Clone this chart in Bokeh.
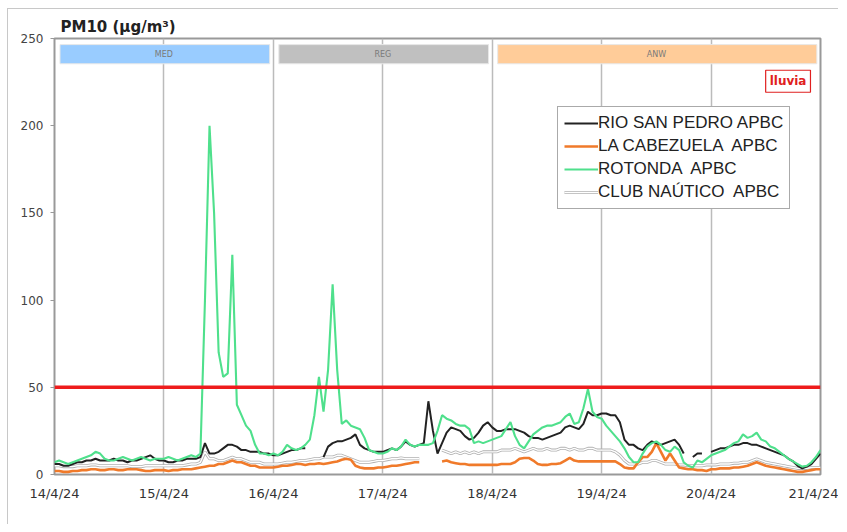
import numpy as np
from bokeh.plotting import figure
from bokeh.models import Range1d, FixedTicker, Span, Label, Legend, LegendItem, ColumnDataSource
from bokeh.core.properties import value
from bokeh.embed import file_html
from bokeh.resources import INLINE

nan = float("nan")

# ---- data (hourly, 14/4/24 00:00 .. 21/4/24 00:00) ----
tick_labels = ["14/4/24", "15/4/24", "16/4/24", "17/4/24", "18/4/24", "19/4/24", "20/4/24", "21/4/24"]
hours = list(range(169))

rotonda = (
    [7, 8, 7, 6, 7, 8, 9, 10, 11, 13, 12, 9, 8, 8, 9, 10, 9, 8, 9, 10, 9, 8, 9, 9]
    + [9, 10, 9, 8, 9, 10, 11, 10, 12, 100, 200, 150, 70, 56, 58, 126, 40, 34, 28, 25, 17, 12, 12, 11]
    + [12, 11, 13, 17, 15, 14, 15, 17, 20, 34, 56, 36, 60, 109, 60, 29, 31, 28, 27, 26, 21, 14, 13, 12]
    + [12, 13, 15, 14, 16, 20, 17, 16, 17, 17, 17, 18, 25, 34, 32, 31, 29, 28, 28, 26, 18, 19, 18, 19]
    + [20, 21, 22, 26, 30, 22, 17, 15, 19, 23, 25, 27, 28, 28, 29, 30, 33, 35, 29, 30, 38, 49, 36, 33]
    + [32, 28, 25, 22, 19, 15, 10, 7, 7, 12, 16, 18, 19, 17, 14, 13, 16, 14, 7, 5, 4, 8, 7, 9]
    + [11, 12, 13, 14, 16, 18, 19, 23, 21, 22, 24, 20, 19, 16, 15, 13, 11, 9, 7.5, 6, 4.5, 5, 7, 10, 14]
)
rio_san_pedro = (
    [6, 6, 5, 5, 6, 7, 7, 8, 8, 9, 8, 8, 8, 9, 8, 8, 7, 8, 8, 9, 10, 11, 9, 8]
    + [8, 7, 7, 8, 8, 9, 9, 9, 10, 18, 12, 12, 13, 15, 17, 17, 16, 14, 14, 13, 13, 13, 12, 12]
    + [11, 11, 12, 13, 14, 14, 15, 15, nan, nan, nan, 10, 16, 18, 19, 19, 20, 21, 23, 17, 15, 14, 13, 13]
    + [13, 14, 15, 14, 16, 19, 17, 16, 17, 18, 42, 25, 12, 18, 24, 27, 26, 25, 22, 20, 21, 24, 28, 30]
    + [27, 25, 25, 26, 26, 26, 25, 24, 22, 21, 21, 20, 21, 22, 23, 24, 27, 28, 27, 26, 29, 36, 34, 34]
    + [35, 35, 34, 34, 30, 20, 17, 17, 15, 14, 17, 19, 18, 17, 18, 19, 20, 17, 12, nan, 10, 12, 12, nan]
    + [13, 14, 15, 15, 16, 17, 17, 18, 18, 17, 17, 16, 15, 14, 13, 12, 11, 9, 7.5, 5, 3.5, 4.5, 6, 9, 12]
)
la_cabezuela = (
    [2, 2, 1.5, 1.5, 2, 2, 2.5, 2.5, 3, 3, 2.5, 2.5, 3, 3, 2.5, 2.5, 3, 3, 3, 2.5, 2, 2, 2.5, 2.5]
    + [2.5, 2, 2.5, 2.5, 3, 3, 3, 3.5, 4, 4.5, 5, 5, 6, 6, 7, 8, 7, 7, 6, 5, 5, 4, 4, 4]
    + [4, 4.5, 5, 5, 5.5, 6, 6, 5.5, 6, 6, 6.5, 6, 6.5, 7, 7.5, 8.5, 9, 8.5, 5, 4, 3.5, 3.5, 3.5, 4]
    + [4, 4.5, 5, 5, 5.5, 6, 6.5, 7, 7, nan, nan, nan, nan, 7.5, 8, 7, 6.5, 6, 6, 5.5, 5.5, 5.5, 5.5, 5.5]
    + [5.5, 5.5, 6, 6, 6, 7, 9, 9.5, 9.5, 8, 6, 5.5, 5.5, 6, 6, 6.5, 8, 9.5, 8, 7.5, 7.5, 7.5, 7.5, 7.5]
    + [7.5, 7.5, 7.5, 7.5, 6, 4, 3.5, 3.5, 7, 10, 10, 13, 18, 13, 8, 12, 8, 4, 3.5, 3, 3, 2.5, 2.5, 2]
    + [3, 3, 3.5, 3.5, 3.5, 4, 4, 4.5, 5, 6, 7, 6, 5, 4.5, 4, 3.5, 3, 2.5, 2, 1.5, 1.5, 2, 2.5, 3, 3]
)
club_nautico = (
    [5, 5, 4.5, 4.5, 4.5, 5, 5, 5, 5.5, 5.5, 5, 5, 5, 5, 5, 5, 5, 4.5, 4.5, 4.5, 5, 5, 5, 5]
    + [5, 5, 5, 5, 5, 5.5, 6, 6, 7, 13, 9, 9, 8, 8, 9, 10, 9, 9, 8, 7, 7, 7, 6, 6]
    + [6, 6, 6.5, 7, 7, 7.5, 8, 8, 8.5, 9, 9, 10, 10, 10, 11, 11, 10, 9, 8, 7, 7, 7, 7.5, 8]
    + [8, 8.5, 9, 9, 9.5, 9, 9, 9, 9, nan, nan, nan, nan, 14, 13, 12, 13, 12, 13, 12, 13, 12, 13, 13]
    + [13, 13, 14, 14, 14, 15, 14, 13, 14, 15, 14, 14, 15, 14, 14, 15, 15, 14, 15, 14, 14, 15, 15, 14]
    + [14, 14, 14, 13, 11, 8, 6, 6, 6, 7, 7, 8, 8, 7, 6, 6, 6, 5.5, 5.5, 5, 5, 5, 5, 5.5]
    + [5.5, 5.5, 6, 6, 6, 6.5, 6.5, 7, 7, 8, 9, 8, 7, 6.5, 6, 5.5, 5, 4.5, 4, 3.5, 3.5, 3.5, 4, 4, 4]
)
limit_value = 50

band_names = ["MED", "REG", "ANW"]
band_start_day = [0, 2, 4]
band_end_day = [2, 4, 7]
band_colors = ["#99ccff", "#c0c0c0", "#ffcc99"]

# ---- figure ----
p = figure(width=831, height=516, x_range=Range1d(0, 168), y_range=Range1d(0, 250),
           output_backend="svg", toolbar_location=None,
           min_border_left=46, min_border_right=19, min_border_top=29, min_border_bottom=51)
p.styles = {"margin-left": "7px", "margin-top": "8px",
            "border-top": "1px solid #c8c8c8", "border-left": "1px solid #c8c8c8"}
p.background_fill_color = "white"
p.border_fill_color = "white"
p.outline_line_color = "#999999"
p.outline_line_width = 2

p.title.text = "PM10 (µg/m³)"
p.title.text_font = "DejaVu Sans"
p.title.text_font_size = "15px"
p.title.text_font_style = "bold"
p.title.text_color = "#222222"
p.title.align = "left"
p.title.offset = 6
p.title.standoff = 5

day_ticks = [24 * i for i in range(len(tick_labels))]
p.xaxis.ticker = FixedTicker(ticks=day_ticks)
p.xaxis.major_label_overrides = {t: l for t, l in zip(day_ticks, tick_labels)}
p.xgrid.ticker = FixedTicker(ticks=day_ticks)
p.xgrid.grid_line_color = "#bbbbbb"
p.xgrid.grid_line_width = 1.5
p.ygrid.visible = False

p.yaxis.ticker = FixedTicker(ticks=[0, 50, 100, 150, 200, 250])
for ax in (p.xaxis, p.yaxis):
    ax.axis_line_color = None
    ax.minor_tick_line_color = None
    ax.major_label_text_font = "DejaVu Sans"
    ax.major_label_text_color = "#444444"
p.yaxis.major_label_text_font_size = "12px"
p.xaxis.major_label_text_font_size = "13px"
p.xaxis.major_label_text_color = "#333333"
p.xaxis.major_tick_line_color = None
p.xaxis.major_label_standoff = 5
p.yaxis.major_tick_line_color = "#999999"
p.yaxis.major_tick_out = 4
p.yaxis.major_tick_in = 0
p.yaxis.major_label_standoff = 7

# regime bands
bsrc = ColumnDataSource(dict(
    left=[24 * s + 1.2 for s in band_start_day],
    right=[24 * e - 0.8 for e in band_end_day],
    mid=[12 * (s + e) for s, e in zip(band_start_day, band_end_day)],
    color=band_colors, name=band_names))
p.quad(left="left", right="right", bottom=235.5, top=246.5, fill_color="color",
       line_color="#e8e8e8", line_width=1, source=bsrc)
p.text(x="mid", y=241, text="name", source=bsrc, text_font=value("DejaVu Sans"),
       text_font_size="8px", text_color="#7a7a7a", text_align="center", text_baseline="middle")

# limit line
p.add_layout(Span(location=limit_value, dimension="width", line_color="#ee1c1c", line_width=3.5))

src = ColumnDataSource(dict(h=hours, rio=rio_san_pedro, cab=la_cabezuela, rot=rotonda, club=club_nautico))

club_bg = p.line("h", "club", source=src, line_color="#b0b0b0", line_width=3)
club_fg = p.line("h", "club", source=src, line_color="#ffffff", line_width=1.4)
cab = p.line("h", "cab", source=src, line_color="#f07a2a", line_width=2.6)
rio = p.line("h", "rio", source=src, line_color="#222222", line_width=2)
rot = p.line("h", "rot", source=src, line_color="#4fe08c", line_width=2.1)

legend = Legend(items=[
    LegendItem(label="RIO SAN PEDRO APBC", renderers=[rio]),
    LegendItem(label="LA CABEZUELA  APBC", renderers=[cab]),
    LegendItem(label="ROTONDA  APBC", renderers=[rot]),
    LegendItem(label="CLUB NAÚTICO  APBC", renderers=[club_bg, club_fg]),
], location=(503, 265))
legend.border_line_color = "#555555"
legend.border_line_width = 1.5
legend.background_fill_alpha = 1
legend.label_text_font = "Liberation Sans"
legend.label_text_font_size = "17px"
legend.label_text_color = "#222222"
legend.glyph_width = 34
legend.glyph_height = 20
legend.label_height = 20
legend.label_standoff = 0
legend.spacing = 3
legend.padding = 6
legend.margin = 0
p.add_layout(legend)

p.add_layout(Label(x=165.8, y=225.5, text="lluvia", text_align="right", text_baseline="middle",
                   text_font="DejaVu Sans", text_font_size="12px", text_font_style="bold",
                   text_color="#e02020", border_line_color="#e02020", border_line_width=1.2,
                   background_fill_color="white", padding=4))

open("out.html", "w").write(file_html(p, INLINE))
